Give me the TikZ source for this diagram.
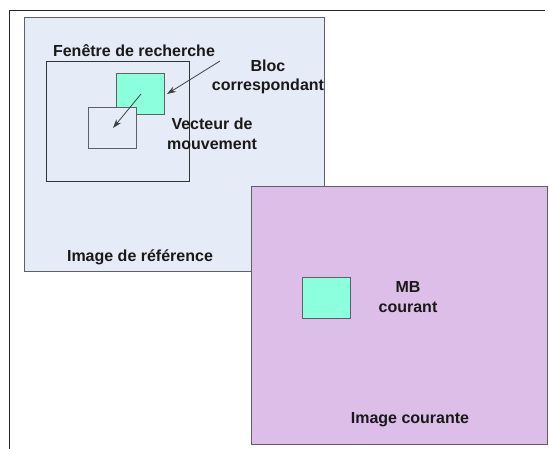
\documentclass[tikz,border=0pt]{standalone}
\usepackage{fontspec}
\setmainfont{Liberation Sans}
\usetikzlibrary{arrows.meta}
\definecolor{refbg}{RGB}{230,236,247}
\definecolor{curbg}{RGB}{221,190,232}
\definecolor{blocg}{RGB}{140,255,220}
\definecolor{edge}{RGB}{95,95,100}
\tikzset{
  box/.style={draw=edge, line width=1pt, inner sep=0pt, anchor=north west},
  lbl/.style={font=\bfseries\fontsize{16}{19.5}\selectfont, text=black!90, align=center, inner sep=0pt},
  arr/.style={draw=black!75, line width=0.8pt, -{Stealth[length=9pt,width=6pt]}}
}
\begin{document}
\begin{tikzpicture}[x=1pt,y=-1pt]
\useasboundingbox (0,0) rectangle (549,448);
\fill[white] (0,0) rectangle (549,448);
% outer frame
\draw[black!85, line width=1pt] (9,449) -- (9,10) -- (545,10);
% reference image
\node[box, fill=refbg, minimum width=300pt, minimum height=254pt] (ref) at (24,17) {};
\node[box, draw=black!80, minimum width=143pt, minimum height=120pt] (win) at (46,61) {};
\node[box, fill=blocg, minimum width=48pt, minimum height=41pt] (bloc) at (116,73) {};
\node[box, fill=refbg, minimum width=48pt, minimum height=41pt] (cur) at (88,107) {};
\node[lbl] (twin) at (134,51) {Fenêtre de recherche};
\node[lbl] (tbloc) at (268,77) {Bloc\\correspondant};
\node[lbl] (tvec) at (212,134) {Vecteur de\\mouvement};
\node[lbl] (tref) at (140,257) {Image de référence};
\coordinate (a1s) at (141,94);
\coordinate (a1e) at (113,128);
\coordinate (a2s) at (220,61);
\coordinate (a2e) at (167,94);
\draw[arr] (a1s) -- (a1e);
\draw[arr] (a2s) -- (a2e);
% current image
\node[box, fill=curbg, minimum width=296pt, minimum height=258pt] (curimg) at (251,186) {};
\node[box, fill=blocg, minimum width=48pt, minimum height=41pt] (mb) at (302,277) {};
\node[lbl] (tmb) at (408,297) {MB\\courant};
\node[lbl] (tcur) at (410,420) {Image courante};
\end{tikzpicture}
\end{document}
